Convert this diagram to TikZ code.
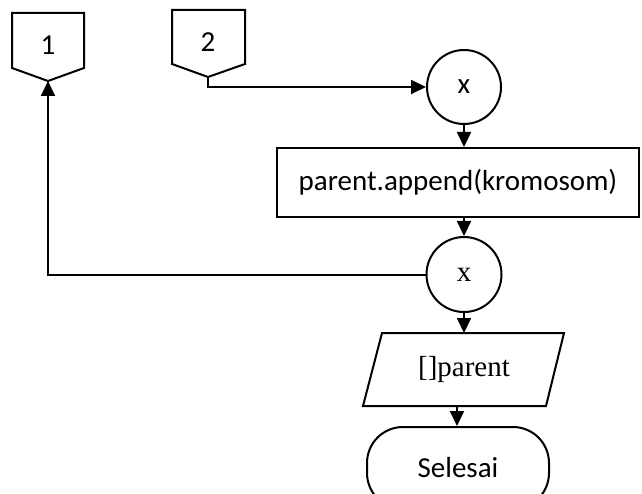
\documentclass[tikz,border=0pt]{standalone}
\usepackage{fontspec}
\setmainfont{Carlito}
\newfontfamily\timesf{Liberation Serif}
\usetikzlibrary{arrows.meta}
\begin{document}
\begin{tikzpicture}[x=1pt,y=1pt,
  line width=2pt,
  every node/.style={font=\fontsize{29}{34}\selectfont, inner sep=0pt},
  flow/.style={draw, -{Triangle[length=15pt,width=14pt]}},
  box/.style={draw, rectangle, minimum width=362pt, minimum height=69pt},
  joint/.style={draw, circle, minimum size=74pt},
  terminal/.style={draw, rectangle, rounded corners=36pt, minimum width=182pt, minimum height=82pt},
  offpage/.style={draw, line join=miter}]
  \useasboundingbox (0,0) rectangle (642,-494);

  % off-page connectors
  \draw[offpage] (12,-13) -- (84,-13) -- (84,-68) -- (48,-81) -- (12,-68) -- cycle;
  \node (c1) at (48,-45) {1};
  \coordinate (c1tip) at (48,-81);
  \draw[offpage] (172,-10) -- (245,-10) -- (245,-64) -- (208,-77) -- (172,-64) -- cycle;
  \node (c2) at (208,-42) {2};
  \coordinate (c2tip) at (208,-77);

  % main column
  \node[joint] (m1) at (464,-87) {x};
  \node[box] (app) at (458,-182.5) {parent.append(kromosom)};
  \node[joint, minimum size=75pt, font=\timesf\fontsize{29}{34}\selectfont] (m2) at (464,-274.5) {x};
  \node[font=\timesf\fontsize{29}{34}\selectfont] (par) at (464,-369.5) {[]parent};
  \draw (382,-333) -- (564,-333) -- (546,-406) -- (363,-406) -- cycle;
  \coordinate (pt) at (464,-333);
  \coordinate (pb) at (457,-406);
  \node[terminal] (end) at (458,-468) {Selesai};

  % connectors
  \draw[flow] (c2tip) |- (m1.west);
  \draw[flow] (m1.south) -- (m1.south |- app.north);
  \draw[flow] (m2.north |- app.south) -- (m2.north);
  \draw[flow] (m2.south) -- (pt);
  \draw[flow] (pb) -- (pb |- end.north);
  \draw[flow] (m2.west) -| (c1tip);
\end{tikzpicture}
\end{document}
